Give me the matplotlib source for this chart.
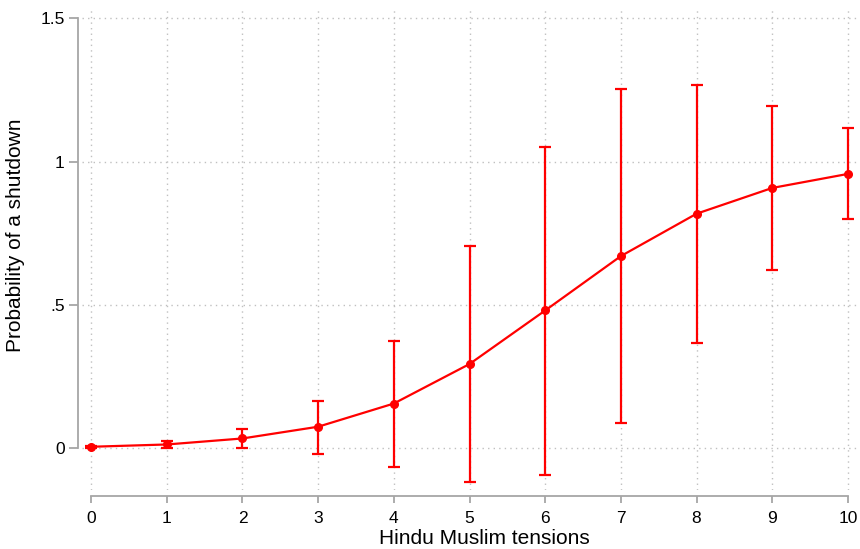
import matplotlib
matplotlib.use("Agg")
import matplotlib.pyplot as plt
import numpy as np

plt.rcParams["font.family"] = ["Liberation Sans", "DejaVu Sans"]

# Hindu Muslim tensions -> predicted probability of a shutdown (95% CI)
tensions = [0, 1, 2, 3, 4, 5, 6, 7, 8, 9, 10]
prob = [0.004, 0.012, 0.033, 0.074, 0.155, 0.293, 0.480, 0.670, 0.818, 0.908, 0.957]
ci_low = [0.000, 0.001, 0.000, -0.020, -0.065, -0.120, -0.095, 0.088, 0.365, 0.622, 0.800]
ci_high = [0.008, 0.024, 0.065, 0.165, 0.373, 0.705, 1.052, 1.252, 1.268, 1.195, 1.117]

y_ticks = [0, 0.5, 1, 1.5]
y_ticklabels = ["0", ".5", "1", "1.5"]

RED = "#ff0000"
AXIS_GREY = "#a6a6a6"

fig = plt.figure(figsize=(8.6, 5.49), dpi=100)
ax = fig.add_axes([82 / 860, 59 / 549, 775 / 860, 483 / 549])

prob = np.array(prob)
yerr = [prob - np.array(ci_low), np.array(ci_high) - prob]
ax.errorbar(tensions, prob, yerr=yerr, color=RED, linewidth=1.6,
            marker="o", markersize=5.5, elinewidth=1.6, capsize=4.5,
            capthick=1.6, zorder=3)

ax.set_xlim(-0.12, 10.12)
ax.set_ylim(-0.147, 1.54)
ax.set_xticks(tensions)
ax.set_yticks(y_ticks)
ax.set_yticklabels(y_ticklabels)

ax.grid(True, color="#c0c0c0", linestyle=(0, (1, 3)), linewidth=1.0)
ax.set_axisbelow(True)

for side in ("top", "right"):
    ax.spines[side].set_visible(False)
ax.spines["left"].set_position(("outward", 3))
ax.spines["bottom"].set_position(("outward", 4))
ax.spines["left"].set_bounds(0, 1.5)
ax.spines["bottom"].set_bounds(0, 10)
for side in ("left", "bottom"):
    ax.spines[side].set_color(AXIS_GREY)
    ax.spines[side].set_linewidth(1.3)

ax.tick_params(axis="both", colors=AXIS_GREY, length=5, width=1.3,
               labelcolor="black", labelsize=12.5)
ax.tick_params(axis="y", length=6.5, pad=3)
ax.tick_params(axis="x", pad=6)

ax.set_xlabel("Hindu Muslim tensions", fontsize=15)
ax.set_ylabel("Probability of a shutdown", fontsize=15)
ax.xaxis.set_label_coords((484 - 82) / 775, (490 - 538) / 483)
ax.yaxis.set_label_coords((16 - 82) / 775, (490 - 235) / 483)
ax.xaxis.label.set_verticalalignment("center")
ax.yaxis.label.set_verticalalignment("center")

fig.savefig("out.png", dpi=100)
